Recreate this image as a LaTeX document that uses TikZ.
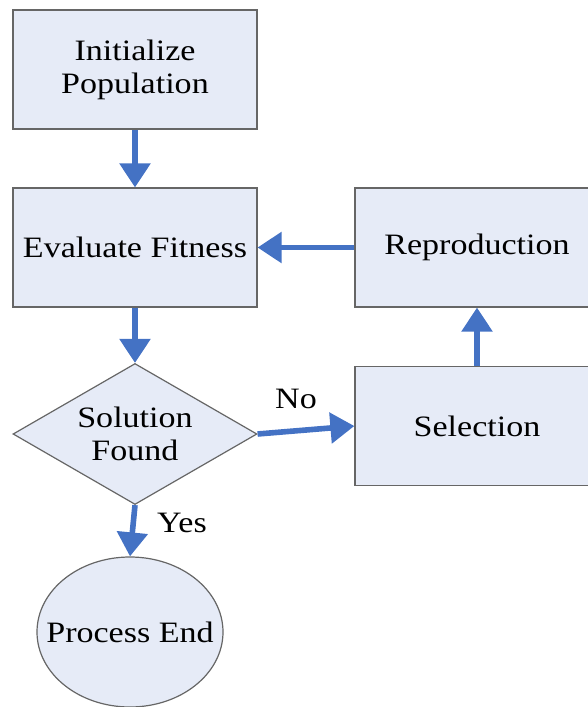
\documentclass[tikz,border=0pt]{standalone}
\usepackage{fontspec}
\setmainfont{Liberation Serif}[FakeStretch=1.15]
\usetikzlibrary{shapes.geometric,arrows.meta}
\definecolor{boxfill}{RGB}{230,235,247}
\definecolor{arrowblue}{RGB}{68,114,196}
\begin{document}
\begin{tikzpicture}[
        x=0.5pt, y=-0.5pt,
        >={Triangle[width=15pt,length=12pt]},
        box/.style={
            rectangle,
            draw=black!60,
            fill=boxfill,
            line width=0.6pt,
            minimum width=122pt,
            minimum height=59.5pt,
            align=center,
            font=\fontsize{14.8}{16.5}\selectfont,
            inner sep=0pt
        },
        decision/.style={
            diamond,
            draw=black!60,
            fill=boxfill,
            line width=0.6pt,
            aspect=1.73,
            minimum width=122pt,
            minimum height=70.5pt,
            align=center,
            font=\fontsize{14.8}{16.5}\selectfont,
            inner sep=0pt
        },
        terminal/.style={
            ellipse,
            draw=black!60,
            fill=boxfill,
            line width=0.6pt,
            minimum width=93pt,
            minimum height=75pt,
            font=\fontsize{14.8}{16.5}\selectfont,
            inner xsep=-16pt,
            inner ysep=0pt
        },
        arrow/.style={->, line width=2.8pt, draw=arrowblue},
        lbl/.style={font=\fontsize{14.8}{16.5}\selectfont}
    ]
    \useasboundingbox (0,0) rectangle (588,707);
    \clip (0,0) rectangle (588,707);

    \node[box] (init) at (135, 69.5)   {Initialize\\Population};
    \node[box] (eval) at (135, 247.5)  {Evaluate Fitness};
    \node[box] (repr) at (477, 247.5)  {Reproduction};
    \node[decision] (found) at (135, 434) {Solution\\Found};
    \node[box] (sel) at (477, 426)     {Selection};
    \node[terminal] (stop) at (130, 632) {Process End};

    \node[lbl] (no) at (296, 399)  {No};
    \node[lbl] (yes) at (182, 523) {Yes};

    \draw[arrow] (init) -- (eval);
    \draw[arrow] (eval) -- (found);
    \draw[arrow] (found.east) -- (sel.west);
    \draw[arrow] (sel) -- (repr);
    \draw[arrow] (repr) -- (eval);
    \draw[arrow] (found.south) -- (stop.north);

    \end{tikzpicture}
\end{document}
